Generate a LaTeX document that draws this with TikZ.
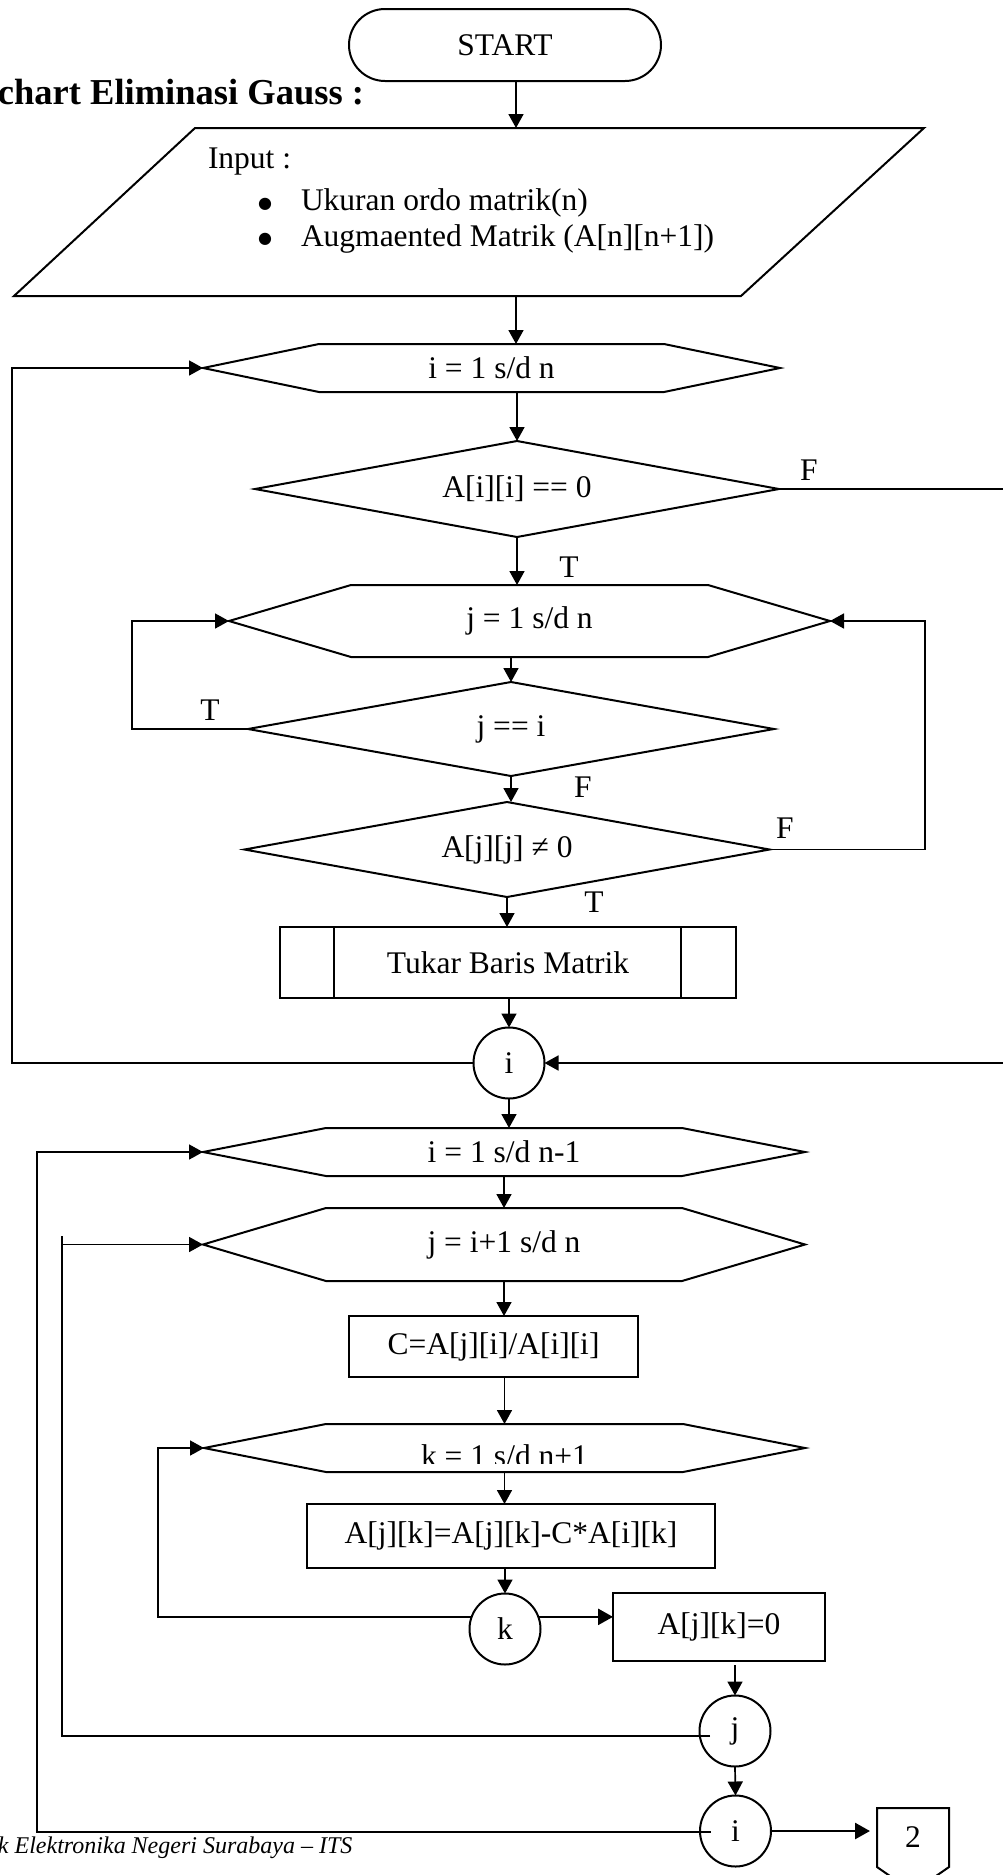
\documentclass[tikz,border=0pt]{standalone}
\usepackage{fontspec}
\setmainfont{Liberation Serif}
\newfontfamily\dejavu{DejaVu Sans}
\usetikzlibrary{arrows.meta,calc,shapes.geometric}

\newcommand\hexnode[6]{%
  \node[plain, minimum width=#3, minimum height=#4] (#1) at #2 {#6};
  \draw[shp] (#1.west) -- ($(#1.north west)+(#5,0)$) -- ($(#1.north east)+(-#5,0)$) -- (#1.east) -- ($(#1.south east)+(-#5,0)$) -- ($(#1.south west)+(#5,0)$) -- cycle;}
\newcommand\dianode[5]{%
  \node[plain, minimum width=#3, minimum height=#4] (#1) at #2 {#5};
  \draw[shp] (#1.west) -- (#1.north) -- (#1.east) -- (#1.south) -- cycle;}

\begin{document}
\begin{tikzpicture}[x=1pt,y=-1pt,
  font=\fontsize{31.5}{38}\selectfont,
  shp/.style={draw, line width=2pt},
  plain/.style={inner sep=0pt, outer sep=0pt},
  box/.style={shp, rectangle, inner sep=0pt, outer sep=0pt},
  conn/.style={shp, circle, inner sep=0pt, outer sep=0pt, minimum size=71pt},
  txt/.style={inner sep=0pt, outer sep=0pt},
  bul/.style={inner sep=0pt, outer sep=0pt, anchor=center, font=\dejavu\fontsize{16}{16}\selectfont},
  ln/.style={line width=1.7pt},
  arr/.style={line width=1.7pt, -{Triangle[length=14pt,width=15pt]}},
  tarr/.style={line width=2.6pt, -{Triangle[length=15pt,width=16pt]}}
]
\clip (0,0) rectangle (1003,1875);
\fill[white] (0,0) rectangle (1003,1875);

% title and footer
\node[txt, anchor=base east, font=\bfseries\fontsize{36.5}{42}\selectfont] (title) at (364,104) {chart Eliminasi Gauss :};
\node[txt, anchor=base west, font=\itshape\fontsize{24}{28}\selectfont] (foot) at (-2,1853) {k Elektronika Negeri Surabaya – ITS};

% start
\node[shp, rectangle, rounded corners=36pt, minimum width=312pt, minimum height=72pt, inner sep=0pt, outer sep=0pt] (start) at (505,45) {START};

% input parallelogram
\coordinate (p1) at (195,128);
\coordinate (p2) at (924,128);
\coordinate (p3) at (741,296);
\coordinate (p4) at (14,296);
\draw[shp] (p1) -- (p2) -- (p3) -- (p4) -- cycle;
\coordinate (inT) at (516,128);
\coordinate (inB) at (516,296);
\node[txt, anchor=base west] (inlbl) at (208,168) {Input :};
\node[bul] (bul1) at (265,204) {●};
\node[bul] (bul2) at (265,239) {●};
\node[txt, anchor=base west] (in1) at (301,210) {Ukuran ordo matrik(n)};
\node[txt, anchor=base west] (in2) at (301,246) {Augmaented Matrik (A[n][n+1])};

% first part
\hexnode{h1}{(491.5,368)}{577pt}{48pt}{116pt}{\raisebox{-4pt}{i = 1 s/d n}}
\dianode{d1}{(517,489)}{524pt}{96pt}{A[i][i] == 0}
\hexnode{h2}{(529.5,621)}{601pt}{72pt}{122pt}{j = 1 s/d n}
\dianode{d2}{(511,729)}{526pt}{94pt}{j == i}
\dianode{d3}{(507,849.5)}{525pt}{95pt}{A[j][j] ≠ 0}
\node[box, minimum width=456pt, minimum height=71pt] (tk) at (508,962.5) {Tukar Baris Matrik};
\draw[shp] ($(tk.north west)+(54,0)$) -- ($(tk.south west)+(54,0)$);
\draw[shp] ($(tk.north east)+(-55,0)$) -- ($(tk.south east)+(-55,0)$);
\node[conn] (ci1) at (509,1063) {i};

% second part
\hexnode{h3}{(504,1152)}{602pt}{48pt}{123pt}{\raisebox{-4pt}{i = 1 s/d n-1}}
\hexnode{h4}{(504,1244.5)}{602pt}{73pt}{123pt}{j = i+1 s/d n}
\node[box, minimum width=289pt, minimum height=61pt] (rc) at (493.5,1346.5) {C=A[j][i]/A[i][i]};
\hexnode{h5}{(504.5,1448)}{601pt}{48pt}{122pt}{}
\begin{scope}
  \clip ($(h5.north west)+(0,-2)$) rectangle ($(h5.east)+(0,15)$);
  \node[txt, anchor=base] (h5t) at ($(h5.center)+(0,18)$) {k = 1 s/d n+1};
\end{scope}
\node[box, minimum width=408pt, minimum height=64pt] (ra) at (511,1536) {A[j][k]=A[j][k]-C*A[i][k]};
\node[conn] (ck) at (505,1629) {k};
\node[box, minimum width=212pt, minimum height=68pt] (rz) at (719,1627) {A[j][k]=0};
\node[conn] (cj) at (735,1731) {j};
\node[conn] (ci2) at (735.5,1831) {i};
\node[plain, minimum width=72pt, minimum height=59pt] (off) at (913,1837.5) {2};
\draw[shp] (off.south west) -- (off.north west) -- (off.north east) -- (off.south east) -- ($(off.south)+(0,25)$) -- cycle;

% labels
\node[txt] (fd1) at (809,470) {F};
\node[txt] (td1) at (569,567) {T};
\node[txt] (td2) at (210,710) {T};
\node[txt] (fd2) at (583,787) {F};
\node[txt] (fd3) at (785,828) {F};
\node[txt] (td3) at (594,902) {T};

% straight connectors
\draw[arr] (start.south -| inT) -- (inT);
\draw[arr] (inB) -- (inB |- h1.north);
\draw[arr] (h1.south -| d1.north) -- (d1.north);
\draw[arr] (d1.south) -- (d1.south |- h2.north);
\draw[arr] (h2.south -| d2.north) -- (d2.north);
\draw[arr] (d2.south) -- (d2.south |- d3.north);
\draw[arr] (d3.south) -- (d3.south |- tk.north);
\draw[arr] (ci1.north |- tk.south) -- (ci1.north);
\draw[arr] (ci1.south) -- (ci1.south |- h3.north);
\draw[arr] (h3.south) -- (h4.north);
\draw[arr] (h4.south) -- (h4.south |- rc.north);
\draw[arr] (h5.north |- rc.south) -- (h5.north);
\draw[arr] (h5.south) -- (h5.south |- ra.north);
\draw[arr] (ck.north |- ra.south) -- (ck.north);
\draw[tarr] (ck.20) -- (ck.20 -| rz.west);
\draw[arr] ($(cj.north |- rz.south)+(0,4)$) -- (cj.north);
\draw[arr] (cj.south) -- (ci2.north);
\draw[tarr] (ci2.east) -- ($(off.west |- ci2.east)+(-7,0)$);

% loops
\coordinate (lx1) at (12,0);
\coordinate (lx2) at (132,0);
\coordinate (rx3) at (925,0);
\coordinate (rx4) at (1015,0);
\coordinate (lx5) at (37,0);
\coordinate (lx6) at (62,0);
\coordinate (lx7) at (158,0);
\coordinate (ci2L) at ($(ci2.center)+(-25,1)$);
\coordinate (cjL) at ($(cj.center)+(-25,5)$);
\draw[arr] (ci1.west) -- (ci1.west -| lx1) -- (h1.west -| lx1) -- (h1.west);
\draw[arr] (d2.west) -- (d2.west -| lx2) -- (h2.west -| lx2) -- (h2.west);
\draw[arr] (d3.east) -- (d3.east -| rx3) -- (h2.east -| rx3) -- (h2.east);
\draw[arr] (d1.east) -- (d1.east -| rx4) -- (ci1.east -| rx4) -- (ci1.east);
\draw[arr] (ci2L) -- (ci2L -| lx5) -- (h3.west -| lx5) -- (h3.west);
\draw[arr] (cjL) -- (cjL -| lx6) -- (h4.west -| lx6) -- (h4.west);
\draw[ln] (h4.west -| lx6) -- ++(0,-9);
\draw[arr] (ck.160) -- (ck.160 -| lx7) -- (h5.west -| lx7) -- (h5.west);
\end{tikzpicture}
\end{document}
